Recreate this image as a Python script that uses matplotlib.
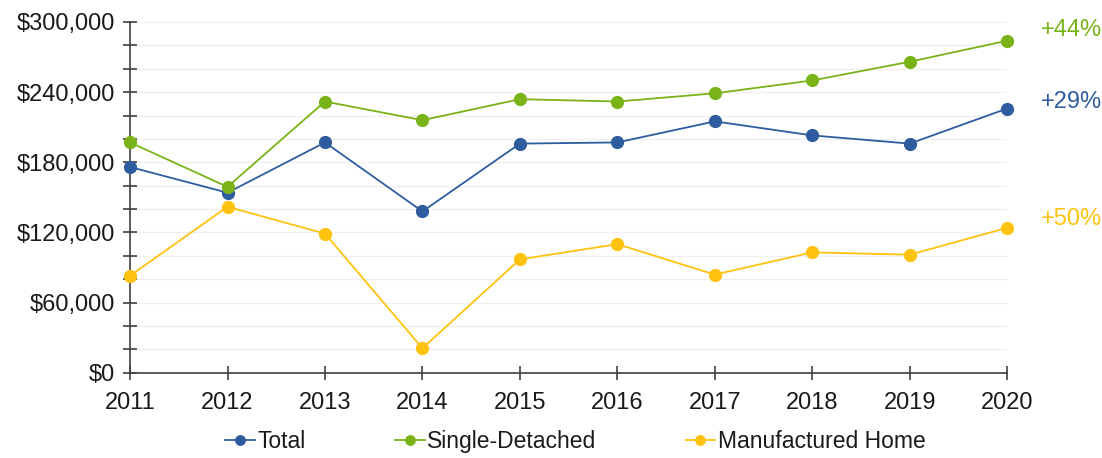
import numpy as np
import matplotlib.pyplot as plt
from matplotlib.ticker import MultipleLocator, FuncFormatter

plt.rcParams['font.family'] = ['Liberation Sans', 'DejaVu Sans']

years = [2011, 2012, 2013, 2014, 2015, 2016, 2017, 2018, 2019, 2020]
total = [176000, 154000, 197000, 138000, 196000, 197000, 215000, 203000, 196000, 226000]
single = [197000, 159000, 232000, 216000, 234000, 232000, 239000, 250000, 266000, 284000]
manuf = [83000, 142000, 119000, 21000, 97000, 110000, 84000, 103000, 101000, 124000]
labels = ["Total", "Single-Detached", "Manufactured Home"]
changes = ["+29%", "+44%", "+50%"]

colors = ["#2E5C9E", "#7AB317", "#FFC20E"]

fig = plt.figure(figsize=(11.02, 4.58), dpi=100)
ax = fig.add_axes([0.118, 0.186, 0.796, 0.766])

for ys, lab, c in zip([total, single, manuf], labels, colors):
    ax.plot(years, ys, color=c, lw=1.3, marker='o', ms=8.5, label=lab, zorder=3, clip_on=False)

ax.set_xlim(2011, 2020)
ax.set_ylim(0, 300000)
ax.yaxis.set_major_locator(MultipleLocator(60000))
ax.yaxis.set_minor_locator(MultipleLocator(20000))
ax.yaxis.set_major_formatter(FuncFormatter(lambda v, p: f"${v:,.0f}"))
ax.set_xticks(years)

ax.grid(axis='y', which='both', color='#F0F0F0', lw=1, zorder=0)
for s in ['top', 'right']:
    ax.spines[s].set_visible(False)
for s in ['left', 'bottom']:
    ax.spines[s].set_color('#404040')
    ax.spines[s].set_linewidth(1.2)

ax.tick_params(axis='both', which='both', direction='inout', color='#404040', width=1.2,
               labelcolor='#1A1A1A')
ax.tick_params(axis='both', which='major', length=10, labelsize=17)
ax.tick_params(axis='y', which='major', pad=6)
ax.tick_params(axis='x', which='major', pad=9)
ax.tick_params(axis='y', which='minor', length=10)

# percentage change labels at the right
offsets = [5, 8, 6]
for ys, txt, c, dy in zip([total, single, manuf], changes, colors, offsets):
    ax.annotate(txt, xy=(years[-1], ys[-1]), xytext=(24, dy), textcoords='offset points',
                color=c, fontsize=17, va='center', ha='left', annotation_clip=False)

fig.legend(loc='lower center', bbox_to_anchor=(0.522, -0.035), ncol=3, frameon=False,
           fontsize=16.5, handlelength=1.3, handletextpad=0.1, columnspacing=3.9, markerscale=0.8,
           labelcolor='#1A1A1A')

fig.savefig('out.png', dpi=100)
